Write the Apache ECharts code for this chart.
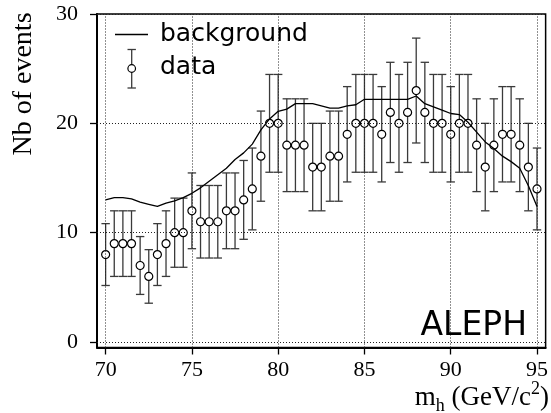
<!DOCTYPE html>
<html>
<head>
<meta charset="utf-8">
<script src="https://cdn.jsdelivr.net/npm/echarts@6/dist/echarts.min.js"></script>
<style>
html,body{margin:0;padding:0;background:#fff;}
#chart{width:551px;height:413px;}
</style>
</head>
<body>
<div id="chart"></div>
<script>
// ---- data ----
const massBins = [70,70.5,71,71.5,72,72.5,73,73.5,74,74.5,75,75.5,76,76.5,77,77.5,78,78.5,79,79.5,80,80.5,81,81.5,82,82.5,83,83.5,84,84.5,85,85.5,86,86.5,87,87.5,88,88.5,89,89.5,90,90.5,91,91.5,92,92.5,93,93.5,94,94.5,95];
const dataCounts = [8,9,9,9,7,6,8,9,10,10,12,11,11,11,12,12,13,14,17,20,20,18,18,18,16,16,17,17,19,20,20,20,19,21,20,21,23,21,20,20,19,20,20,18,16,18,19,19,18,16,14];
const backgroundValues = [13.0,13.2,13.2,13.1,12.8,12.6,12.4,12.7,12.9,13.2,13.6,14.1,14.7,15.3,15.9,16.7,17.3,18.1,19.4,20.4,21.1,21.3,21.8,21.8,21.8,21.6,21.4,21.4,21.6,21.7,22.2,22.2,22.2,22.2,22.2,22.2,22.5,21.8,21.5,21.2,20.9,20.8,20.1,19.2,18.3,17.7,17.0,16.5,15.9,14.3,12.4];
const xTicks = [70,75,80,85,90,95];
const yTicks = [0,10,20,30];
const xTitleParts = ['m','h',' (GeV/c','2',')'];
const yTitle = 'Nb of events';
const legendNames = ['background','data'];
const experimentLabel = 'ALEPH';

const chart = echarts.init(document.getElementById('chart'), null, {renderer:'canvas'});

const serif = 'Liberation Serif';
const sans = 'DejaVu Sans';

// Poisson error bars (sqrt N) as drawn on the picture
const errData = massBins.map((m,i)=>[m, dataCounts[i]-Math.sqrt(dataCounts[i]), dataCounts[i]+Math.sqrt(dataCounts[i])]);
const pointData = massBins.map((m,i)=>[m, dataCounts[i]]);
const bgData = massBins.map((m,i)=>[m, backgroundValues[i]]);

// measure x-title pieces
const cv = document.createElement('canvas').getContext('2d');
function w(t, size){ cv.font = size + 'px "' + serif + '"'; return cv.measureText(t).width; }
const F = 27, S = 18;
const sizes = [F,S,F,S,F];
const dys = [0,6,0,-11,0];
const widths = xTitleParts.map((t,i)=>w(t,sizes[i]));
const total = widths.reduce((a,b)=>a+b,0);
let cx = 549 - total;
const baseX = 406;
const xTitleEls = xTitleParts.map((t,i)=>{
  const el = {type:'text', x:cx, y:baseX + dys[i] - 0.3*sizes[i], style:{text:t, fill:'#000', font:sizes[i]+'px "'+serif+'"', textAlign:'left', textVerticalAlign:'middle'}};
  cx += widths[i];
  return el;
});

const option = {
  animation:false,
  backgroundColor:'#fff',
  grid:{left:97, right:1, top:14, bottom:65.5, show:true, borderColor:'#000', borderWidth:1.5, backgroundColor:'transparent'},
  xAxis:{
    type:'value', min:69.5, max:95.5,
    axisLine:{show:true, onZero:false, lineStyle:{color:'#000', width:2}},
    axisTick:{show:true, customValues:xTicks, inside:false, length:7, lineStyle:{color:'#000', width:1.3}},
    axisLabel:{customValues:xTicks, color:'#000', fontFamily:serif, fontSize:22, margin:12},
    splitLine:{show:false}
  },
  yAxis:{
    type:'value', min:-0.5, max:30,
    axisLine:{show:true, onZero:false, lineStyle:{color:'#000', width:2}},
    axisTick:{show:true, customValues:yTicks, inside:false, length:7, lineStyle:{color:'#000', width:1.3}},
    axisLabel:{customValues:yTicks, color:'#000', fontFamily:serif, fontSize:22, margin:19},
    splitLine:{show:false}
  },
  series:[
    {
      type:'custom', name:'errors', z:2, silent:true,
      data:errData,
      encode:{x:0, y:[1,2]},
      renderItem:function(params, api){
        const x = api.value(0);
        const lo = api.coord([x, api.value(1)]);
        const hi = api.coord([x, api.value(2)]);
        const hw = 4.2;
        const st = {stroke:'#3a3a3a', lineWidth:1.3};
        return {type:'group', children:[
          {type:'line', shape:{x1:lo[0], y1:lo[1], x2:hi[0], y2:hi[1]}, style:st},
          {type:'line', shape:{x1:lo[0]-hw, y1:lo[1], x2:lo[0]+hw, y2:lo[1]}, style:st},
          {type:'line', shape:{x1:hi[0]-hw, y1:hi[1], x2:hi[0]+hw, y2:hi[1]}, style:st}
        ]};
      }
    },
    {
      type:'scatter', name:'data', z:3, silent:true,
      data:pointData, symbol:'circle', symbolSize:8,
      itemStyle:{color:'#fff', borderColor:'#000', borderWidth:1.2, opacity:1}
    },
    {
      type:'line', name:'background', z:4, silent:true,
      data:bgData, showSymbol:false, symbol:'none', smooth:false,
      lineStyle:{color:'#000', width:1.3},
      markLine:{
        silent:true, symbol:['none','none'], label:{show:false}, animation:false,
        lineStyle:{type:[1,2], color:'#222', width:1},
        emphasis:{disabled:true},
        data: xTicks.map(v=>({xAxis:v})).concat(yTicks.map(v=>({yAxis:v})))
      }
    }
  ],
  graphic:[
    // legend
    {type:'line', shape:{x1:115, y1:34.5, x2:148, y2:34.5}, style:{stroke:'#000', lineWidth:1.3}, z:10},
    {type:'text', x:160, y:34, style:{text:legendNames[0], fill:'#000', font:'25px "'+sans+'"', textAlign:'left', textVerticalAlign:'middle'}, z:10},
    {type:'line', shape:{x1:131.7, y1:49.5, x2:131.7, y2:88}, style:{stroke:'#3a3a3a', lineWidth:1.3}, z:10},
    {type:'line', shape:{x1:127.5, y1:49.5, x2:135.9, y2:49.5}, style:{stroke:'#3a3a3a', lineWidth:1.3}, z:10},
    {type:'line', shape:{x1:127.5, y1:88, x2:135.9, y2:88}, style:{stroke:'#3a3a3a', lineWidth:1.3}, z:10},
    {type:'circle', shape:{cx:131.7, cy:68.5, r:3.8}, style:{fill:'#fff', stroke:'#000', lineWidth:1.2}, z:11},
    {type:'text', x:160, y:67.5, style:{text:legendNames[1], fill:'#000', font:'25px "'+sans+'"', textAlign:'left', textVerticalAlign:'middle'}, z:10},
    // experiment label
    {type:'text', x:527, y:326, style:{text:experimentLabel, fill:'#000', font:'33px "'+sans+'"', textAlign:'right', textVerticalAlign:'middle'}, z:10},
    // y title
    {type:'text', x:23.5, y:84, rotation:Math.PI/2, style:{text:yTitle, fill:'#000', font:'28px "'+serif+'"', textAlign:'center', textVerticalAlign:'middle'}, z:10}
  ].concat(xTitleEls)
};
chart.setOption(option);
</script>
</body>
</html>
